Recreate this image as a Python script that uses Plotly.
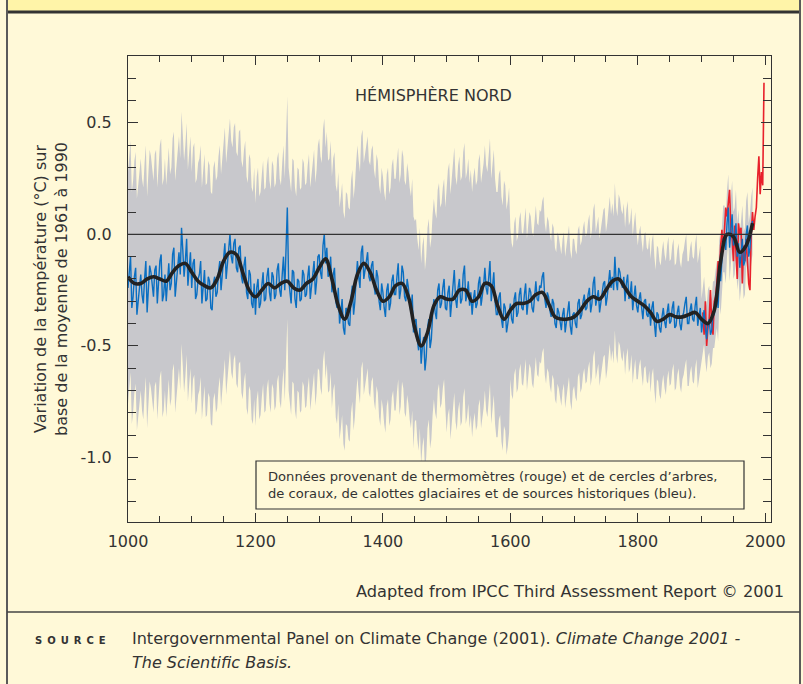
import plotly.graph_objects as go

# ---------------- data ----------------
# proxy reconstruction (blue), read at 4-year steps from 1000 ...
proxy_years_a = list(range(1000, 1981, 4))
proxy_values_a = [
    -0.24, -0.10, -0.28, -0.15, -0.30,  -0.18, -0.31, -0.12, -0.26, -0.17,
    -0.28, -0.14, -0.23, -0.09, -0.27,  -0.30, -0.13, -0.22, -0.06, -0.20,
    -0.08, 0.03, -0.19, -0.02, -0.16,   -0.24, -0.11, -0.27, -0.18, -0.31,
    -0.16, -0.29, -0.21, -0.34, -0.19,  -0.26, -0.12, -0.18, -0.04, -0.14,
    0.00, -0.13, -0.02, -0.17, -0.05,   -0.22, -0.10, -0.29, -0.18, -0.33,
    -0.36, -0.20, -0.31, -0.17, -0.29,  -0.15, -0.30, -0.19, -0.27, -0.13,
    -0.28, -0.10, -0.05, -0.20, -0.31,  -0.17, -0.33, -0.21, -0.29, -0.18,
    -0.27, -0.14, -0.24, -0.12, -0.21,  -0.09, -0.20, 0.00, -0.06, -0.18,
    -0.26, -0.15, -0.33, -0.40, -0.29,  -0.45, -0.34, -0.41, -0.23, -0.30,
    -0.12, -0.24, -0.05, -0.16, -0.08,  -0.21, -0.12, -0.27, -0.19, -0.34,
    -0.26, -0.37, -0.22, -0.31, -0.18,  -0.27, -0.13, -0.25, -0.17, -0.30,
    -0.24, -0.35, -0.44, -0.38, -0.52,  -0.58, -0.46, -0.55, -0.38, -0.47,
    -0.29, -0.38, -0.22, -0.31, -0.20,  -0.34, -0.23, -0.30, -0.16, -0.33,
    -0.20, -0.29, -0.14, -0.27, -0.32,  -0.36, -0.25, -0.31, -0.19, -0.28,
    -0.15, -0.27, -0.12, -0.24, -0.30,  -0.36, -0.26, -0.42, -0.33, -0.40,
    -0.31, -0.40, -0.26, -0.35, -0.24,  -0.34, -0.22, -0.31, -0.26, -0.35,
    -0.21, -0.30, -0.24, -0.17, -0.33,  -0.28, -0.37, -0.31, -0.42, -0.35,
    -0.43, -0.33, -0.40, -0.30, -0.45,  -0.35, -0.42, -0.29, -0.36, -0.27,
    -0.33, -0.24, -0.31, -0.19, -0.29,  -0.35, -0.27, -0.21, -0.28, -0.16,
    -0.19, -0.10, -0.25, -0.17, -0.24,  -0.30, -0.18, -0.27, -0.34, -0.23,
    -0.35, -0.26, -0.38, -0.29, -0.37,  -0.41, -0.30, -0.46, -0.36, -0.44,
    -0.33, -0.42, -0.31, -0.39, -0.30,  -0.41, -0.32, -0.43, -0.35, -0.28,
    -0.40, -0.31, -0.39, -0.28, -0.37,  -0.44, -0.34, -0.47, -0.38, -0.43,
    -0.36, -0.27, -0.15, -0.08, -0.02,  0.05, -0.06, 0.09, -0.03, -0.10,
    -0.15, -0.02, -0.12, 0.04, -0.06,   0.06,
]
# ... and at the in-between years 1002, 1006, ...
proxy_years_b = list(range(1002, 1979, 4))
proxy_values_b = [
    -0.15, -0.33, -0.19, -0.36, -0.21,  -0.27, -0.20, -0.35, -0.14, -0.24,
    -0.16, -0.31, -0.12, -0.30, -0.18,  -0.20, -0.25, -0.09, -0.28, -0.13,
    -0.18, -0.07, -0.12, -0.23, -0.08,  -0.13, -0.29, -0.20, -0.12, -0.25,
    -0.30, -0.19, -0.33, -0.22, -0.28,  -0.17, -0.25, -0.08, -0.20, -0.07,
    -0.10, -0.04, -0.15, -0.06, -0.19,  -0.14, -0.26, -0.16, -0.31, -0.22,
    -0.24, -0.33, -0.23, -0.30, -0.19,  -0.26, -0.17, -0.29, -0.16, -0.25,
    -0.18, -0.25, 0.12, -0.27, -0.16,   -0.29, -0.20, -0.30, -0.16, -0.28,
    -0.19, -0.29, -0.16, -0.27, -0.10,  -0.17, -0.05, -0.13, -0.19, -0.10,
    -0.18, -0.30, -0.24, -0.35, -0.42,  -0.33, -0.40, -0.28, -0.36, -0.20,
    -0.19, -0.08, -0.20, -0.10, -0.19,  -0.14, -0.23, -0.16, -0.30, -0.22,
    -0.33, -0.25, -0.34, -0.21, -0.27,  -0.19, -0.29, -0.14, -0.28, -0.20,
    -0.31, -0.27, -0.39, -0.47, -0.42,  -0.50, -0.61, -0.42, -0.51, -0.36,
    -0.35, -0.25, -0.33, -0.24, -0.33,  -0.26, -0.37, -0.21, -0.29, -0.24,
    -0.31, -0.18, -0.30, -0.21, -0.26,  -0.29, -0.33, -0.22, -0.32, -0.23,
    -0.24, -0.18, -0.30, -0.17, -0.36,  -0.28, -0.38, -0.31, -0.44, -0.34,
    -0.38, -0.29, -0.37, -0.27, -0.33,  -0.27, -0.36, -0.24, -0.33, -0.27,
    -0.29, -0.23, -0.19, -0.29, -0.26,  -0.34, -0.29, -0.40, -0.33, -0.39,
    -0.36, -0.44, -0.34, -0.41, -0.36,  -0.40, -0.31, -0.38, -0.30, -0.34,
    -0.27, -0.35, -0.22, -0.32, -0.25,  -0.30, -0.22, -0.32, -0.20, -0.24,
    -0.25, -0.21, -0.15, -0.22, -0.19,  -0.22, -0.29, -0.21, -0.28, -0.32,
    -0.29, -0.33, -0.30, -0.36, -0.31,  -0.33, -0.40, -0.35, -0.42, -0.37,
    -0.39, -0.35, -0.40, -0.33, -0.42,  -0.35, -0.40, -0.37, -0.31, -0.40,
    -0.34, -0.38, -0.32, -0.41, -0.33,  -0.38, -0.42, -0.40, -0.45, -0.36,
    -0.31, -0.33, -0.21, -0.02, -0.07,  0.12, 0.00, -0.05, 0.05, -0.04,
    -0.09, -0.14, 0.00, -0.10, 0.02,
]

# half-width of the grey uncertainty band, by period start year
unc_start_years = [1000, 1100, 1200, 1300, 1400, 1450, 1500, 1600, 1700, 1800, 1850, 1900]
unc_halfwidth   = [0.52, 0.52, 0.50, 0.52, 0.52, 0.45, 0.55, 0.34, 0.33, 0.30, 0.28, 0.15]

# 40-year smoothed curve (black)
smooth_years = list(range(1000, 1981, 10))
smooth_values = [
    -0.19, -0.22, -0.22, -0.20, -0.19, -0.20, -0.21, -0.17, -0.14, -0.13,
    -0.17, -0.21, -0.23, -0.24, -0.20, -0.12, -0.08, -0.09, -0.17, -0.25,
    -0.28, -0.25, -0.22, -0.24, -0.22, -0.21, -0.24, -0.25, -0.22, -0.20,
    -0.15, -0.11, -0.20, -0.32, -0.38, -0.30, -0.18, -0.13, -0.17, -0.25,
    -0.30, -0.28, -0.23, -0.22, -0.28, -0.42, -0.50, -0.44, -0.32, -0.28,
    -0.29, -0.29, -0.25, -0.25, -0.30, -0.28, -0.22, -0.23, -0.32, -0.38,
    -0.34, -0.31, -0.31, -0.30, -0.27, -0.26, -0.31, -0.37, -0.38, -0.38,
    -0.37, -0.34, -0.30, -0.28, -0.29, -0.25, -0.21, -0.20, -0.24, -0.28,
    -0.30, -0.32, -0.35, -0.39, -0.38, -0.36, -0.37, -0.37, -0.36, -0.35,
    -0.38, -0.40, -0.34, -0.12, 0.00, -0.01, -0.08, -0.05, 0.05,
]

# thermometer record (red)
instr_years = list(range(1902, 1999, 2))
instr_values = [
    -0.35, -0.45, -0.30, -0.50, -0.42, -0.38, -0.25, -0.40, -0.45, -0.30,
    -0.28, -0.22, -0.12, -0.18, -0.05, 0.02, -0.08, 0.05, 0.12, 0.08,
    0.15, 0.20, 0.02, -0.02, -0.12, 0.04, -0.08, -0.20, 0.05, 0.00,
    0.03, -0.22, -0.05, -0.12, -0.02, -0.15, -0.22, -0.25, 0.00, 0.10,
    0.02, 0.08, 0.12, 0.25, 0.35, 0.18, 0.28, 0.22, 0.68,
]

x_tick_vals = [1000, 1200, 1400, 1600, 1800, 2000]
y_tick_vals = [-1.0, -0.5, 0.0, 0.5]
y_tick_text = ["-1.0", "-0.5", "0.0", "0.5"]

# ---------------- combine proxy + band ----------------
proxy = sorted(zip(proxy_years_a + proxy_years_b, proxy_values_a + proxy_values_b))
proxy_years = [p[0] for p in proxy]
proxy_values = [p[1] for p in proxy]

def halfwidth(year):
    h = unc_halfwidth[0]
    for s, v in zip(unc_start_years, unc_halfwidth):
        if year >= s:
            h = v
    return h

band_upper = [v + halfwidth(y) for y, v in zip(proxy_years, proxy_values)]
band_lower = [v - halfwidth(y) for y, v in zip(proxy_years, proxy_values)]

# ---------------- layout geometry ----------------
W, H = 803, 684
L, R, T, B = 128, 32, 56, 162
PW, PH = W - L - R, H - T - B

def px(xp):
    return (xp - L) / PW

def py(yp):
    return (H - B - yp) / PH

BG = "#FFF9D8"
BAND = "#FFF4A8"
INK = "#333333"
FONT = "DejaVu Sans"

fig = go.Figure()

fig.add_trace(go.Scatter(x=proxy_years, y=band_upper, mode="lines",
                         line=dict(width=0, color="#C8C8CC"), hoverinfo="skip",
                         showlegend=False))
fig.add_trace(go.Scatter(x=proxy_years, y=band_lower, mode="lines",
                         line=dict(width=0, color="#C8C8CC"), fill="tonexty",
                         fillcolor="#C8C8CC", hoverinfo="skip", showlegend=False))
fig.add_trace(go.Scatter(x=instr_years, y=instr_values, mode="lines",
                         line=dict(width=1.6, color="#E8212B"), showlegend=False))
fig.add_trace(go.Scatter(x=proxy_years, y=proxy_values, mode="lines",
                         line=dict(width=1.4, color="#0A6FC2"), showlegend=False))
fig.add_trace(go.Scatter(x=smooth_years, y=smooth_values, mode="lines",
                         line=dict(width=3.6, color="#222222", shape="spline"),
                         showlegend=False))

shapes = [
    dict(type="rect", xref="paper", yref="paper", x0=px(7), x1=px(800),
         y0=py(12), y1=py(0), fillcolor=BAND, line=dict(width=0), layer="below"),
    dict(type="line", xref="paper", yref="paper", x0=px(7), x1=px(800),
         y0=py(12), y1=py(12), line=dict(color=INK, width=3)),
    dict(type="line", xref="paper", yref="paper", x0=px(7), x1=px(7),
         y0=py(0), y1=py(684), line=dict(color="#5A5A5A", width=2)),
    dict(type="line", xref="paper", yref="paper", x0=px(800), x1=px(800),
         y0=py(0), y1=py(684), line=dict(color="#5A5A5A", width=2)),
    dict(type="line", xref="paper", yref="paper", x0=px(7), x1=px(800),
         y0=py(612), y1=py(612), line=dict(color="#444444", width=1.5)),
    dict(type="line", xref="paper", yref="y", x0=0, x1=1, y0=0, y1=0,
         line=dict(color=INK, width=1.2), layer="above"),
    dict(type="rect", xref="paper", yref="paper", x0=px(256), x1=px(744),
         y0=py(509), y1=py(461), fillcolor=BG, line=dict(color=INK, width=1.2),
         layer="above"),
]

annotations = [
    dict(text="HÉMISPHÈRE NORD", xref="paper", yref="paper", x=px(433), y=py(96),
         xanchor="center", yanchor="middle", showarrow=False,
         font=dict(family=FONT, size=16, color=INK)),
    dict(text="Données provenant de thermomètres (rouge) et de cercles d\u2019arbres,<br>"
              "de coraux, de calottes glaciaires et de sources historiques (bleu).",
         xref="paper", yref="paper", x=px(266), y=py(485), xanchor="left",
         yanchor="middle", align="left", showarrow=False,
         font=dict(family=FONT, size=13.1, color=INK)),
    dict(text="Variation de la température (°C) sur<br>base de la moyenne de 1961 à 1990",
         xref="paper", yref="paper", x=px(51), y=0.5, xanchor="center",
         yanchor="middle", textangle=-90, showarrow=False,
         font=dict(family=FONT, size=16, color=INK)),
    dict(text="Adapted from IPCC Third Assessment Report © 2001", xref="paper",
         yref="paper", x=px(786), y=py(591), xanchor="right", yanchor="middle",
         showarrow=False, font=dict(family=FONT, size=16.2, color=INK)),
    dict(text="<b>S\u2002O\u2002U\u2002R\u2002C\u2002E</b>", xref="paper", yref="paper",
         x=px(33), y=py(640), xanchor="left", yanchor="middle", showarrow=False,
         font=dict(family=FONT, size=10, color=INK)),
    dict(text="Intergovernmental Panel on Climate Change (2001). <i>Climate Change 2001 -</i>",
         xref="paper", yref="paper", x=px(130), y=py(638), xanchor="left",
         yanchor="middle", showarrow=False, font=dict(family=FONT, size=16, color=INK)),
    dict(text="<i>The Scientific Basis.</i>", xref="paper", yref="paper", x=px(130),
         y=py(662), xanchor="left", yanchor="middle", showarrow=False,
         font=dict(family=FONT, size=16, color=INK)),
]

fig.update_layout(
    width=W, height=H,
    margin=dict(l=L, r=R, t=T, b=B, pad=0),
    paper_bgcolor=BG, plot_bgcolor=BG,
    font=dict(family=FONT, color=INK),
    shapes=shapes, annotations=annotations,
    showlegend=False, hovermode=False,
)

fig.update_xaxes(
    range=[1000, 2009], tickmode="array", tickvals=x_tick_vals,
    ticks="inside", ticklen=9, tickwidth=1, tickcolor=INK,
    showline=True, linecolor=INK, linewidth=1.2, mirror="ticks",
    showgrid=False, zeroline=False,
    tickfont=dict(family=FONT, size=16, color=INK), ticklabelstandoff=5,
    minor=dict(tickmode="linear", tick0=1000, dtick=50, ticks="inside",
               ticklen=6, tickcolor=INK, tickwidth=1, showgrid=False),
)
fig.update_yaxes(
    range=[-1.29, 0.8], tickmode="array", tickvals=y_tick_vals, ticktext=y_tick_text,
    ticks="inside", ticklen=10, tickwidth=1, tickcolor=INK,
    showline=True, linecolor=INK, linewidth=1.2, mirror="ticks",
    showgrid=False, zeroline=False,
    tickfont=dict(family=FONT, size=16, color=INK), ticklabelstandoff=12,
    minor=dict(tickmode="linear", tick0=0, dtick=0.1, ticks="inside",
               ticklen=8, tickcolor=INK, tickwidth=1, showgrid=False),
)

fig.write_html("out.html", config={"displayModeBar": False},
               post_script="document.body.style.margin='0px';")
